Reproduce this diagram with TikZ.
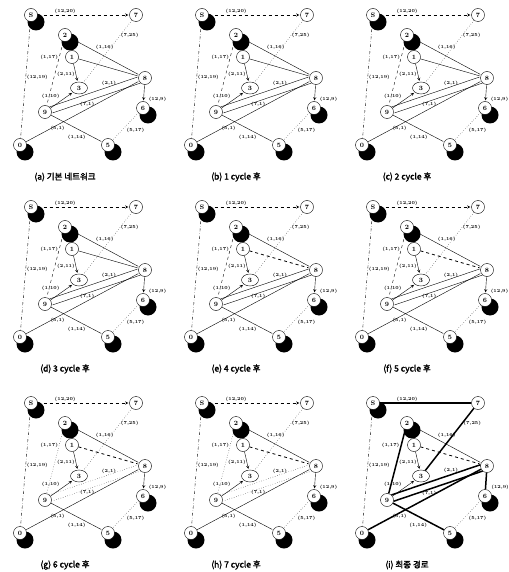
\documentclass[tikz,border=0pt]{standalone}
\usepackage{fontspec}
\newfontfamily\kfont[AutoFakeBold=2]{Noto Sans CJK KR}
\usetikzlibrary{shapes.geometric}
\colorlet{penColor}{black}
\tikzset{>=stealth}
\tikzset{
  stn/.style={circle, draw=penColor, thin, fill=white, inner sep=0pt,
    minimum size=13pt, font=\fontsize{6.5}{7}\selectfont\bfseries},
  link/.style={penColor, thin, shorten >=1pt},
  route/.style={penColor, line width=1.5pt},
  elab/.style={font=\fontsize{4.5}{5}\selectfont\bfseries, inner sep=1pt},
  panelcap/.style={font=\kfont\bfseries\fontsize{8.5}{10}\selectfont},
  % one style per link, changed in the panels
  aS7/.style={link, dashed, ->}, aS0/.style={link, dash dot},
  a73/.style={link, dotted}, a28/.style={link}, a29/.style={link, dashed},
  a18/.style={link}, a13/.style={link, ->}, a93/.style={link, ->},
  a98/.style={link}, a89/.style={link}, a08/.style={link},
  a95/.style={link}, a86/.style={link, ->}, a65/.style={link, dotted}
}
\newcommand{\drawnet}[1]{%
  % black shadows
  \foreach \p in {(31,15),(65,35),(143,108),(20,145),(108,145)}
    \fill[penColor] \p ++(5,7) circle (8.5pt);
  \node[stn] (nS) at (31,15) {S};
  \node[stn] (n7) at (136,15) {7};
  \node[stn] (n2) at (65,35) {2};
  \node[stn] (n1) at (72,57) {1};
  \node[stn, ellipse, minimum width=17pt, minimum height=12pt] (n3) at (79,88) {3};
  \node[stn] (n8) at (145,78) {8};
  \node[stn] (n6) at (143,108) {6};
  \node[stn] (n9) at (45,112) {9};
  \node[stn] (n0) at (20,145) {0};
  \node[stn] (n5) at (108,145) {5};
  \draw[aS7] (nS) -- node[elab,above,pos=.3] {(12,20)} (n7);
  \draw[aS0] (nS) -- node[elab,right,pos=.48] {(12,19)} (n0);
  \draw[a73] (n7) -- node[elab,right,pos=.25] {(7,25)} (n3);
  \draw[a28] (n2) -- node[elab,above right,pos=.35] {(1,16)} (n8);
  \draw[a29] (n2) -- node[elab,left,pos=.25] {(1,17)} (n9);
  \draw[a18] (n1) -- (n8);
  \draw[a13] (n1) -- node[elab,left,pos=.6] {(2,11)} (n3);
  \draw[a93] (n9) -- node[elab,above left,pos=.55,xshift=-2pt] {(1,10)} (n3);
  \draw[a98] (n9.49) -- node[elab,above,pos=.67] {(2,1)} (n8.169);
  \draw[a89] (n8.229) -- node[elab,below,pos=.6] {(7,1)} (n9.-11);
  \draw[a08] (n0) -- node[elab,below,pos=.28] {(5,1)} (n8);
  \draw[a95] (n9) -- node[elab,below left,pos=.7] {(1,14)} (n5);
  \draw[a86] (n8) -- node[elab,right,pos=.9,xshift=4pt] {(12,9)} (n6);
  \draw[a65] (n6) -- node[elab,below right,pos=.5] {(5,17)} (n5);
  \node[panelcap] (capt) at (65,177) {#1};
}

\begin{document}
\begin{tikzpicture}[x=1pt,y=-1pt]
\useasboundingbox (0,0) rectangle (508,572);
\begin{scope}[shift={(0,0)}]
  \drawnet{(a) 기본 네트워크}
\end{scope}
\begin{scope}[shift={(171,0)}]
  \drawnet{(b) 1 cycle 후}
\end{scope}
\begin{scope}[shift={(342,0)}]
  \drawnet{(c) 2 cycle 후}
\end{scope}
\begin{scope}[shift={(0,192)}]
  \drawnet{(d) 3 cycle 후}
\end{scope}
\begin{scope}[shift={(171,192)}, a18/.style={link, dashed, thick}]
  \drawnet{(e) 4 cycle 후}
\end{scope}
\begin{scope}[shift={(342,192)}, a18/.style={link, dashed, thick}]
  \drawnet{(f) 5 cycle 후}
\end{scope}
\begin{scope}[shift={(0,388)}, a18/.style={link, dashed, thick},
    a98/.style={link, dotted}, a89/.style={link, dotted}, a29/.style={link, dotted}]
  \drawnet{(g) 6 cycle 후}
\end{scope}
\begin{scope}[shift={(171,388)}, a18/.style={link, dashed, thick},
    a98/.style={link, dotted}, a89/.style={link, dotted}, a29/.style={link, dotted}]
  \drawnet{(h) 7 cycle 후}
\end{scope}
\begin{scope}[shift={(342,388)}, a18/.style={link, dashed, thick},
    aS7/.style={route}, a73/.style={route}, a29/.style={route},
    a98/.style={route}, a89/.style={route}, a08/.style={route},
    a95/.style={route}, a86/.style={route}]
  \drawnet{(i) 최종 경로}
\end{scope}
\end{tikzpicture}
\end{document}
